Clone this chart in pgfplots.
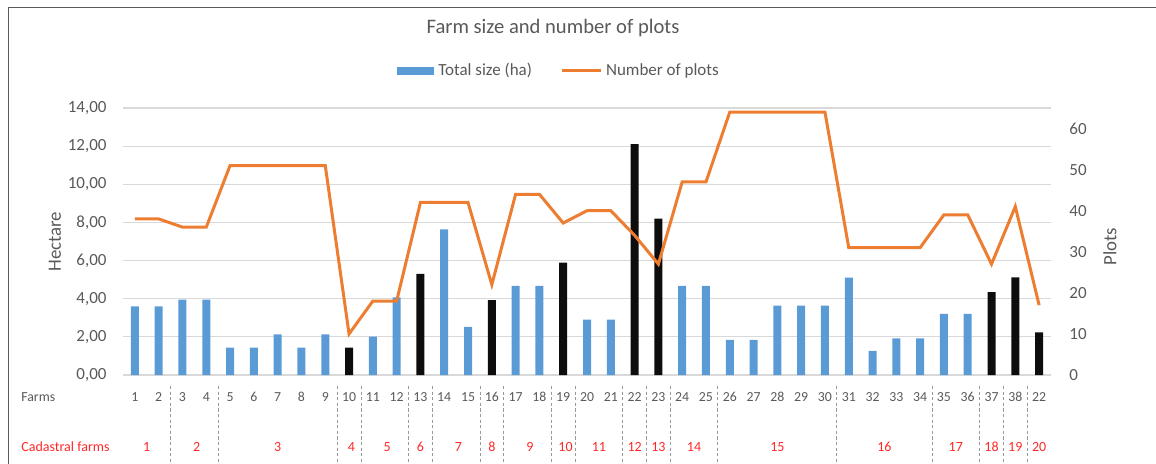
\documentclass[border=0pt]{standalone}
\usepackage{fontspec}
\setmainfont{Carlito}
\usepackage{pgfplots}
\usepackage{pgfplotstable}
\pgfplotsset{compat=1.18}
\definecolor{barblue}{RGB}{91,155,213}
\definecolor{lineorange}{RGB}{237,125,49}
\definecolor{txtgray}{RGB}{89,89,89}
\definecolor{gridgray}{RGB}{217,217,217}
\definecolor{cadred}{RGB}{255,40,40}
\tikzset{cad/.style={text=cadred, font=\fontsize{7}{8}\selectfont}}

% farm size (ha), blue bars
\pgfplotstableread{
farm ha
1 3.60
2 3.60
3 3.95
4 3.95
5 1.43
6 1.43
7 2.13
8 1.43
9 2.13
11 2.01
12 4.07
14 7.64
15 2.53
17 4.67
18 4.67
20 2.90
21 2.90
24 4.67
25 4.67
26 1.84
27 1.84
28 3.64
29 3.64
30 3.64
31 5.10
32 1.26
33 1.92
34 1.92
35 3.20
36 3.20
}\bluebars

% farm size (ha), black bars
\pgfplotstableread{
farm ha
10 1.43
13 5.30
16 3.92
19 5.89
22 12.10
23 8.20
37 4.34
38 5.12
39 2.24
}\blackbars

% number of plots
\pgfplotstableread{
farm plots
1 38
2 38
3 36
4 36
5 51
6 51
7 51
8 51
9 51
10 10
11 18
12 18
13 42
14 42
15 42
16 22
17 44
18 44
19 37
20 40
21 40
22 34
23 27
24 47
25 47
26 64
27 64
28 64
29 64
30 64
31 31
32 31
33 31
34 31
35 39
36 39
37 27
38 41
39 17
}\plotsdata

\pgfplotsset{
  common/.style={
    at={(61.5pt,-187.5pt)}, anchor=south west,
    scale only axis, width=464pt, height=133.5pt,
    xmin=0.5, xmax=39.5,
    axis line style={draw=none},
    major tick length=0pt,
    tick style={draw=none},
    /pgf/number format/assume math mode=true,
  },
}

\begin{document}
\begin{tikzpicture}
\useasboundingbox (0pt,0pt) rectangle (578pt,-232pt);
\draw[line width=0.8pt, black!65] (4.2pt,-232pt) -- (4.2pt,-3.7pt) -- (578pt,-3.7pt);

\node[text=txtgray, font=\fontsize{10.3}{12}\selectfont] at (276.5pt,-14pt) {Farm size and number of plots};

\begin{axis}[common,
  ymin=0, ymax=14, ytick={0,2,...,14},
  ymajorgrids, grid style={gridgray, line width=0.6pt},
  yticklabel style={/pgf/number format/.cd, fixed, fixed zerofill, precision=2, use comma,
    /tikz/.cd, text=txtgray, font=\fontsize{8.5}{10}\selectfont, xshift=-4.7pt},
  xtick={1,...,39},
  xticklabels={1,2,3,4,5,6,7,8,9,10,11,12,13,14,15,16,17,18,19,20,21,22,23,24,25,26,27,28,29,30,31,32,33,34,35,36,37,38,22},
  xticklabel style={text=txtgray, font=\fontsize{6.9}{8}\selectfont, anchor=center, yshift=-11pt},
  clip=false,
  legend style={at={(0.471,1.139)}, anchor=center, draw=none, fill=none,
    legend columns=2, font=\fontsize{8.5}{10}\selectfont, text=txtgray,
    /tikz/every even column/.append style={column sep=12pt}},
  legend cell align=left,
]
\addplot[ybar, bar width=4pt, bar shift=0pt, fill=barblue, draw=none,
  legend image code/.code={\fill[barblue] (0pt,-2pt) rectangle (18.5pt,2pt);}]
  table[x=farm, y=ha] {\bluebars};
\addlegendentry{Total size (ha)}
\addplot[ybar, bar width=4pt, bar shift=0pt, fill=black!95, draw=none, forget plot]
  table[x=farm, y=ha] {\blackbars};
\addlegendimage{lineorange, line width=1.5pt,
  legend image code/.code={\draw[lineorange, line width=1.5pt] (0pt,0pt) -- (19.5pt,0pt);}}
\addlegendentry{Number of plots}

% group separators
\pgfplotsinvokeforeach{2.5,4.5,9.5,10.5,12.5,13.5,15.5,16.5,18.5,19.5,21.5,22.5,23.5,25.5,30.5,34.5,36.5,37.5,38.5}{
  \draw[gray!80, line width=0.4pt, dash pattern=on 1.6pt off 1.2pt] (axis cs:#1,-0.58) -- (axis cs:#1,-4.56);
}
% cadastral farms
\node[cad] at (axis cs:1.5,-3.78) {1};
\node[cad] at (axis cs:3.6,-3.78) {2};
\node[cad] at (axis cs:7,-3.78) {3};
\node[cad] at (axis cs:10.1,-3.78) {4};
\node[cad] at (axis cs:11.6,-3.78) {5};
\node[cad] at (axis cs:13,-3.78) {6};
\node[cad] at (axis cs:14.6,-3.78) {7};
\node[cad] at (axis cs:16,-3.78) {8};
\node[cad] at (axis cs:17.6,-3.78) {9};
\node[cad] at (axis cs:19.1,-3.78) {10};
\node[cad] at (axis cs:20.5,-3.78) {11};
\node[cad] at (axis cs:22,-3.78) {12};
\node[cad] at (axis cs:23,-3.78) {13};
\node[cad] at (axis cs:24.5,-3.78) {14};
\node[cad] at (axis cs:28,-3.78) {15};
\node[cad] at (axis cs:32.5,-3.78) {16};
\node[cad] at (axis cs:35.5,-3.78) {17};
\node[cad] at (axis cs:37,-3.78) {18};
\node[cad] at (axis cs:38,-3.78) {19};
\node[cad] at (axis cs:39,-3.78) {20};
\end{axis}

\begin{axis}[common,
  ymin=0, ymax=65, ytick={0,10,...,60},
  axis y line*=right, axis x line=none,
  yticklabel style={text=txtgray, font=\fontsize{8.5}{10}\selectfont, xshift=5.7pt},
]
\addplot[lineorange, line width=1.5pt, no marks] table[x=farm, y=plots] {\plotsdata};
\end{axis}

\node[rotate=90, text=txtgray, font=\fontsize{9.4}{11}\selectfont] at (27.5pt,-120.8pt) {Hectare};
\node[rotate=90, text=txtgray, font=\fontsize{9.4}{11}\selectfont] at (555pt,-123.3pt) {Plots};
\node[anchor=west, inner sep=0pt, text=txtgray, font=\fontsize{6.9}{8}\selectfont] at (10.5pt,-198.5pt) {Farms};
\node[anchor=west, inner sep=0pt, text=cadred, font=\fontsize{7}{8}\selectfont] at (10.5pt,-223.5pt) {Cadastral farms};
\end{tikzpicture}
\end{document}
